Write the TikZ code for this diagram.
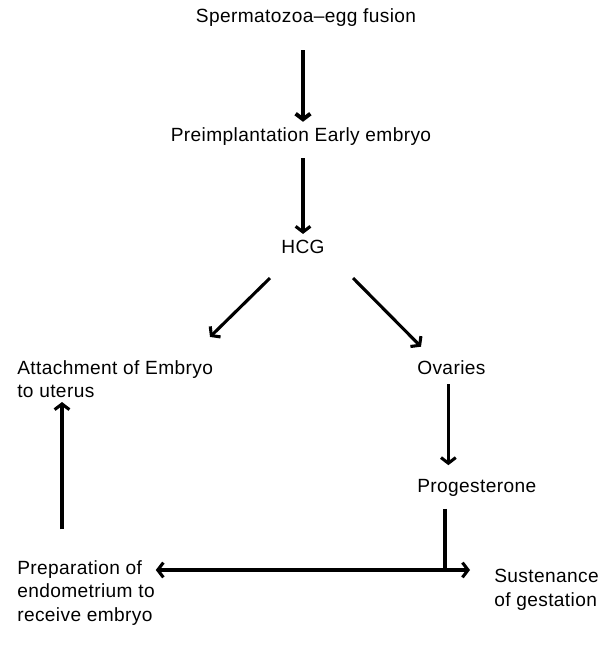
\documentclass[tikz,border=0pt]{standalone}
\usepackage{fontspec}
\setmainfont[LetterSpace=2]{Liberation Sans}
\usepackage{tikz}
\usetikzlibrary{positioning}
\usetikzlibrary{calc,arrows.meta}

\begin{document}
\begin{tikzpicture}[auto,
    every node/.style={inner sep=0pt, font=\fontsize{13.6}{16.7}\selectfont},
    arr/.style={line width=2.2pt, -{Straight Barb[length=4pt,width=10.5pt]}}]
    \useasboundingbox (0,0) rectangle (15,16.15);
    % Nodes
    \node (sperm) at (7.65,15.7) {Spermatozoa--egg fusion};
    \node (preimp) at (7.525,12.725) {Preimplantation Early embryo};
    \node (hcg) at (7.575,9.975) {HCG};
    \node [anchor=west, align=left] (attach) at (0.425,6.675) {Attachment of Embryo\\to uterus};
    \node [anchor=west] (ovaries) at (10.425,6.95) {Ovaries};
    \node [anchor=west] (prog) at (10.425,3.95) {Progesterone};
    \node [anchor=west, align=left] (prep) at (0.425,1.325) {Preparation of\\endometrium to\\receive embryo};
    \node [anchor=west, align=left] (sust) at (12.35,1.4) {Sustenance\\of gestation};
    \coordinate (junc) at ([xshift=0.7cm]ovaries.west |- 0,1.9);

    % Arrows
    \draw [arr, line width=2.8pt, shorten <=0.575cm, shorten >=0.15cm] (sperm.south -| hcg.south) -- (preimp.north -| hcg.south);
    \draw [arr, shorten <=0.3cm, shorten >=0.15cm] (preimp.south -| hcg.south) -- (hcg.north);
    \draw [arr] ([shift={(-0.825,-0.6)}]hcg.south) -- ([shift={(4.825,0.575)}]attach.north west);
    \draw [arr] ([shift={(1.25,-0.6)}]hcg.south) -- ([shift={(0.1,0.35)}]ovaries.north west);
    \draw [arr, shorten <=0.225cm, shorten >=0.35cm] ([xshift=-0.075cm]ovaries.south) -- ([xshift=-0.075cm]prog.north -| ovaries.south);
    \draw [line width=2.2pt, shorten <=0.3cm] (prog.south -| junc) -- (junc);
    \draw [arr, {Straight Barb[length=4pt,width=10.5pt]}-{Straight Barb[length=4pt,width=10.5pt]}, shorten <=0.02cm, shorten >=0.6cm] (prep.east |- junc) -- (sust.west |- junc);
    \draw [arr, shorten <=0.775cm, shorten >=0.1cm] ([xshift=1.125cm]prep.north west) -- ([xshift=1.125cm]attach.south west);
\end{tikzpicture}
\end{document}
